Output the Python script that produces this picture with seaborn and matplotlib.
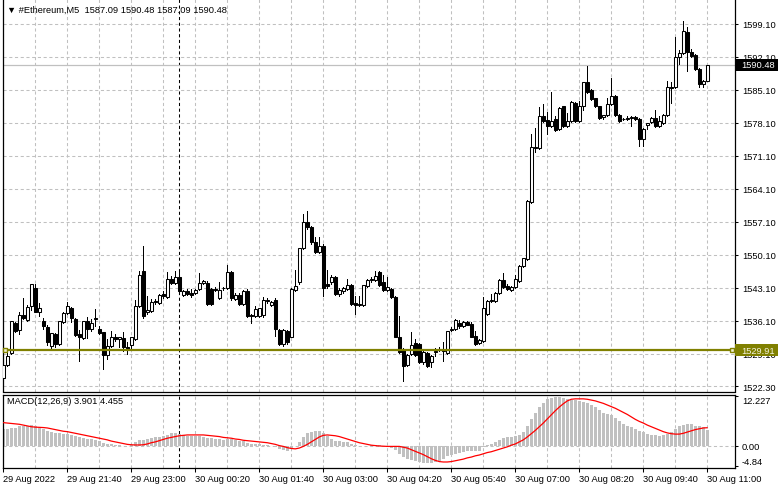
import matplotlib
matplotlib.use("Agg")
import matplotlib.pyplot as plt
import matplotlib.transforms as mtransforms
from matplotlib.patches import Rectangle
import seaborn as sns
import pandas as pd
import numpy as np

# ---- ETH M5 candles ----
opens = [1523.9, 1526.8, 1529.4, 1535.6, 1534.2, 1537.4, 1536.4, 1539.2, 1543.1, 1537.9,
         1536.1, 1534.8, 1530.7, 1533.3, 1531.2, 1535.8, 1537.8, 1538.8, 1536.5, 1533.3,
         1532.4, 1536.2, 1534.3, 1536.6, 1534.3, 1533.7, 1528.8, 1530.7, 1532.8, 1532.3,
         1532.4, 1530.5, 1531.0, 1532.3, 1539.2, 1546.8, 1537.9, 1538.3, 1540.4, 1540.0,
         1541.8, 1541.1, 1545.0, 1544.2, 1545.4, 1541.6, 1542.5, 1542.0, 1542.0, 1542.8,
         1544.2, 1544.2, 1542.9, 1542.9, 1541.0, 1543.0, 1543.0, 1546.4, 1540.8, 1541.6,
         1539.7, 1542.5, 1537.4, 1537.1, 1537.2, 1537.4, 1540.4, 1539.4, 1540.6, 1534.2,
         1531.2, 1533.9, 1532.8, 1542.7, 1544.3, 1551.5, 1557.2, 1556.0, 1552.8, 1550.8,
         1552.1, 1544.0, 1544.3, 1545.4, 1541.8, 1542.5, 1542.9, 1543.7, 1539.9, 1539.5,
         1539.5, 1543.6, 1544.7, 1544.7, 1546.4, 1544.3, 1542.7, 1542.9, 1541.1, 1532.8,
         1530.0, 1526.8, 1529.0, 1531.4, 1531.2, 1527.3, 1529.3, 1527.5, 1529.5, 1530.0,
         1529.8, 1529.3, 1534.2, 1534.4, 1535.7, 1535.1, 1535.8, 1535.5, 1533.0, 1531.4,
         1531.9, 1537.6, 1540.4, 1540.4, 1542.0, 1544.8, 1543.6, 1542.7, 1543.4, 1544.6,
         1547.7, 1549.2, 1561.4, 1573.1, 1572.7, 1579.5, 1578.8, 1577.5, 1578.9, 1576.8,
         1581.6, 1577.4, 1578.6, 1582.3, 1578.6, 1581.8, 1586.7, 1585.2, 1583.3, 1581.6,
         1579.3, 1579.8, 1582.1, 1583.8, 1579.8, 1578.9, 1579.0, 1579.1, 1579.4, 1578.9,
         1574.8, 1577.6, 1578.4, 1579.1, 1577.4, 1578.1, 1579.7, 1585.7, 1585.7, 1592.2,
         1592.9, 1597.5, 1593.1, 1592.6, 1589.5, 1586.4, 1587.09]
highs = [1527.0, 1530.3, 1536.0, 1535.9, 1538.1, 1540.9, 1539.5, 1543.9, 1543.9, 1540.0,
         1536.7, 1535.2, 1533.6, 1533.5, 1536.0, 1538.0, 1540.2, 1539.0, 1536.7, 1534.2,
         1536.2, 1536.9, 1536.6, 1538.6, 1535.0, 1533.7, 1532.3, 1534.0, 1533.3, 1532.8,
         1533.7, 1531.6, 1532.8, 1540.6, 1546.8, 1552.1, 1541.5, 1540.8, 1540.8, 1541.9,
         1542.5, 1546.4, 1545.7, 1546.6, 1546.8, 1542.7, 1542.8, 1542.9, 1542.9, 1546.2,
         1544.8, 1544.5, 1543.2, 1543.3, 1544.3, 1543.4, 1548.0, 1546.8, 1542.0, 1542.0,
         1542.7, 1542.8, 1537.6, 1539.2, 1538.9, 1541.2, 1540.9, 1540.3, 1541.0, 1534.5,
         1534.3, 1534.2, 1543.0, 1547.0, 1551.6, 1558.8, 1559.5, 1556.3, 1553.9, 1553.9,
         1552.4, 1547.0, 1545.8, 1545.6, 1543.0, 1543.4, 1545.0, 1544.0, 1541.3, 1541.5,
         1543.8, 1545.0, 1545.4, 1546.6, 1546.6, 1545.9, 1545.4, 1543.2, 1541.3, 1537.2,
         1530.3, 1529.1, 1533.7, 1532.3, 1531.4, 1529.8, 1529.5, 1528.8, 1530.3, 1530.5,
         1531.6, 1534.0, 1534.8, 1536.6, 1536.4, 1536.0, 1536.0, 1535.8, 1533.9, 1532.3,
         1541.1, 1540.6, 1541.8, 1542.2, 1544.9, 1546.3, 1543.9, 1543.6, 1545.9, 1547.9,
         1549.5, 1561.8, 1575.8, 1577.0, 1581.4, 1582.1, 1580.4, 1584.7, 1579.6, 1581.4,
         1581.8, 1580.2, 1582.8, 1582.5, 1582.8, 1586.9, 1590.1, 1585.4, 1583.5, 1581.8,
         1579.9, 1583.3, 1587.6, 1584.0, 1580.0, 1579.2, 1579.5, 1579.5, 1579.6, 1579.1,
         1577.1, 1578.2, 1579.3, 1580.9, 1579.5, 1580.0, 1587.1, 1586.9, 1596.3, 1593.6,
         1599.7, 1598.4, 1593.8, 1592.8, 1589.7, 1587.3, 1590.48]
lows = [1523.4, 1526.5, 1529.0, 1533.8, 1533.3, 1536.6, 1536.2, 1538.5, 1537.9, 1537.2,
        1534.5, 1531.0, 1530.0, 1530.6, 1531.0, 1535.6, 1537.6, 1535.8, 1533.0, 1527.7,
        1532.2, 1532.4, 1534.0, 1535.1, 1533.4, 1525.9, 1528.0, 1530.5, 1531.9, 1530.5,
        1529.8, 1529.1, 1530.4, 1532.0, 1539.0, 1536.8, 1537.5, 1538.0, 1539.8, 1539.8,
        1541.0, 1540.9, 1543.9, 1544.0, 1541.8, 1541.4, 1541.6, 1541.1, 1541.8, 1542.6,
        1544.0, 1539.4, 1539.4, 1542.4, 1540.8, 1542.6, 1542.8, 1540.6, 1540.6, 1539.5,
        1539.5, 1537.0, 1535.7, 1536.9, 1537.0, 1537.0, 1540.0, 1539.2, 1533.0, 1530.9,
        1530.8, 1531.3, 1532.6, 1542.5, 1544.0, 1551.3, 1555.7, 1552.5, 1550.5, 1550.6,
        1541.3, 1543.2, 1544.0, 1541.6, 1541.4, 1542.0, 1542.6, 1539.5, 1537.6, 1539.2,
        1539.3, 1543.4, 1544.4, 1544.5, 1543.5, 1542.5, 1542.5, 1540.9, 1532.6, 1529.4,
        1523.4, 1526.6, 1528.8, 1528.7, 1527.1, 1527.0, 1526.3, 1526.4, 1528.7, 1529.7,
        1527.7, 1529.1, 1533.9, 1534.2, 1534.6, 1534.9, 1535.2, 1532.6, 1531.0, 1531.2,
        1531.7, 1537.4, 1540.2, 1540.2, 1541.8, 1543.2, 1542.7, 1542.5, 1543.2, 1544.4,
        1547.5, 1549.0, 1561.2, 1571.9, 1572.5, 1578.3, 1575.8, 1577.3, 1576.5, 1576.6,
        1577.2, 1577.2, 1578.4, 1578.4, 1578.4, 1580.9, 1584.5, 1583.0, 1581.4, 1578.9,
        1579.0, 1579.6, 1581.9, 1579.6, 1578.4, 1578.7, 1578.8, 1577.5, 1578.7, 1573.2,
        1573.2, 1576.8, 1578.2, 1577.3, 1577.2, 1577.9, 1579.5, 1582.4, 1585.5, 1590.6,
        1592.7, 1589.2, 1592.0, 1589.3, 1585.8, 1585.8, 1587.09]
closes = [1526.8, 1528.7, 1536.0, 1534.0, 1537.4, 1536.7, 1539.0, 1543.9, 1538.1, 1538.8,
          1535.1, 1531.6, 1533.6, 1531.2, 1536.0, 1537.8, 1539.2, 1536.7, 1533.1, 1532.6,
          1536.2, 1534.4, 1535.7, 1536.7, 1533.6, 1528.8, 1530.7, 1532.8, 1532.3, 1532.6,
          1530.5, 1530.2, 1532.6, 1539.2, 1545.9, 1537.1, 1538.5, 1540.2, 1540.1, 1541.7,
          1541.5, 1545.0, 1544.2, 1545.5, 1542.5, 1542.5, 1541.8, 1541.7, 1542.7, 1544.2,
          1544.5, 1539.6, 1539.6, 1542.6, 1542.7, 1543.1, 1546.4, 1540.9, 1541.7, 1539.7,
          1542.5, 1537.1, 1537.1, 1538.6, 1538.8, 1540.6, 1540.6, 1540.1, 1534.3, 1531.2,
          1534.1, 1531.6, 1542.9, 1543.5, 1551.5, 1557.2, 1556.0, 1552.8, 1550.8, 1552.1,
          1543.2, 1543.6, 1545.4, 1541.8, 1542.7, 1543.0, 1543.7, 1539.7, 1539.4, 1539.6,
          1543.7, 1544.7, 1545.0, 1545.7, 1543.7, 1542.7, 1543.4, 1541.1, 1532.8, 1529.6,
          1526.6, 1528.9, 1531.0, 1528.9, 1527.3, 1529.5, 1526.6, 1528.6, 1529.7, 1530.1,
          1529.9, 1533.9, 1534.5, 1536.4, 1535.0, 1535.8, 1535.3, 1532.8, 1531.2, 1532.1,
          1538.8, 1540.4, 1540.5, 1542.0, 1544.8, 1543.4, 1542.9, 1543.4, 1544.9, 1547.7,
          1549.4, 1561.6, 1573.1, 1572.8, 1579.5, 1578.6, 1577.5, 1578.6, 1576.7, 1581.2,
          1577.4, 1578.6, 1582.6, 1578.6, 1581.8, 1586.7, 1584.7, 1583.2, 1581.6, 1579.1,
          1579.8, 1582.1, 1583.8, 1579.8, 1578.6, 1578.9, 1579.2, 1579.3, 1578.9, 1574.8,
          1576.9, 1578.1, 1579.1, 1577.5, 1578.6, 1579.8, 1585.7, 1585.5, 1592.2, 1592.9,
          1597.7, 1593.1, 1592.4, 1589.5, 1586.4, 1587.1, 1590.48]

# ---- MACD(12,26,9): main (histogram) and signal ----
macd_main = [4.1, 4.1, 4.4, 4.5, 4.8, 5.0, 5.0, 5.1, 5.0, 4.5,
             4.1, 3.7, 3.5, 3.2, 3.2, 2.9, 2.9, 2.7, 2.4, 2.1,
             1.9, 1.7, 1.7, 1.5, 1.3, 0.7, 0.6, 0.4, 0.2, 0.2,
             0.1, 0.0, 0.2, 0.9, 1.5, 1.5, 1.7, 1.9, 2.1, 2.3,
             2.5, 2.8, 3.2, 3.2, 3.0, 2.7, 2.5, 2.5, 2.5, 2.4,
             2.1, 2.0, 1.9, 1.7, 1.7, 1.5, 1.7, 1.7, 1.5, 1.2,
             1.1, 0.7, 0.5, 0.5, 0.4, 0.2, 0.2, 0.1, -0.3, -0.7,
             -1.0, -1.2, -0.7, -0.1, 0.9, 2.1, 3.1, 3.5, 3.6, 3.7,
             3.2, 2.4, 1.7, 1.3, 1.1, 0.9, 0.9, 0.5, 0.2, 0.1,
             0.1, 0.1, 0.2, 0.2, 0.2, 0.1, -0.1, -0.4, -1.0, -1.9,
             -2.7, -3.1, -3.5, -3.7, -3.9, -4.1, -4.2, -4.2, -3.9, -3.7,
             -3.1, -2.4, -2.1, -1.9, -1.6, -1.5, -1.2, -1.2, -1.3, -1.3,
             -0.2, 0.2, 0.6, 1.0, 1.5, 2.0, 2.2, 2.2, 2.4, 2.8,
             3.4, 4.8, 6.7, 8.1, 9.5, 10.5, 11.4, 11.7, 11.9, 12.0,
             11.7, 11.5, 11.1, 11.1, 10.9, 10.7, 10.6, 10.1, 9.5, 8.7,
             8.1, 7.9, 7.5, 6.8, 6.0, 5.4, 5.0, 4.6, 4.1, 3.6,
             3.3, 3.0, 2.8, 2.6, 2.4, 2.6, 3.0, 3.4, 4.1, 4.8,
             5.2, 5.4, 5.4, 5.0, 4.8, 4.6, 3.901]
macd_signal = [5.7, 5.6, 5.5, 5.4, 5.3, 5.1, 4.9, 4.7, 4.6, 4.55,
               4.5, 4.4, 4.2, 4.0, 3.8, 3.6, 3.5, 3.3, 3.1, 2.9,
               2.7, 2.5, 2.3, 2.1, 1.9, 1.7, 1.5, 1.2, 1.0, 0.8,
               0.6, 0.4, 0.3, 0.25, 0.25, 0.3, 0.5, 0.8, 1.0, 1.3,
               1.6, 1.9, 2.1, 2.3, 2.5, 2.6, 2.7, 2.7, 2.7, 2.7,
               2.7, 2.6, 2.5, 2.4, 2.3, 2.1, 2.0, 1.9, 1.7, 1.6,
               1.4, 1.3, 1.2, 1.1, 1.0, 0.9, 0.8, 0.6, 0.4, 0.1,
               -0.1, -0.4, -0.6, -0.7, -0.5, -0.1, 0.4, 1.0, 1.6, 2.2,
               2.6, 2.7, 2.6, 2.5, 2.3, 2.0, 1.7, 1.4, 1.1, 0.8,
               0.6, 0.4, 0.2, 0.1, 0.0, -0.05, -0.1, -0.1, -0.1, -0.1,
               -0.3, -0.5, -0.9, -1.3, -1.7, -2.1, -2.6, -3.1, -3.5, -3.8,
               -3.9, -3.9, -3.8, -3.6, -3.4, -3.2, -2.9, -2.7, -2.4, -2.2,
               -1.9, -1.6, -1.4, -1.1, -0.8, -0.5, -0.2, 0.2, 0.5, 1.0,
               1.5, 2.2, 3.0, 3.8, 4.7, 5.6, 6.6, 7.6, 8.6, 9.5,
               10.3, 11.0, 11.4, 11.5, 11.5, 11.5, 11.4, 11.2, 11.0, 10.7,
               10.4, 10.0, 9.6, 9.2, 8.7, 8.2, 7.7, 7.1, 6.5, 6.0,
               5.6, 5.1, 4.7, 4.3, 3.9, 3.5, 3.2, 3.0, 2.9, 2.9,
               3.1, 3.4, 3.7, 4.0, 4.2, 4.4, 4.455]

time_labels = ["29 Aug 2022", "29 Aug 21:40", "29 Aug 23:00", "30 Aug 00:20",
               "30 Aug 01:40", "30 Aug 03:00", "30 Aug 04:20", "30 Aug 05:40",
               "30 Aug 07:00", "30 Aug 08:20", "30 Aug 09:40", "30 Aug 11:00"]
price_ticks = [1599.1, 1592.1, 1585.1, 1578.1, 1571.1, 1564.1, 1557.1, 1550.1,
               1543.1, 1536.1, 1529.1, 1522.3]
macd_ticks = [12.227, 0.0, -4.84]
bid_price = 1590.48
level_price = 1529.91

df = pd.DataFrame({"open": opens, "high": highs, "low": lows, "close": closes,
                   "main": macd_main, "signal": macd_signal})
df["bar"] = np.arange(len(df))

sns.set_style("white")
plt.rcParams["font.family"] = ["Liberation Sans", "DejaVu Sans"]
FS = 6.7
GRID = "#c0c0c0"
OLIVE = "#808000"

W, H = 781, 489
fig = plt.figure(figsize=(W / 100, H / 100), dpi=100)
ax = fig.add_axes([2.5 / W, 1 - 392.5 / H, 732.5 / W, 392.5 / H])
ax2 = fig.add_axes([2.5 / W, 1 - 469 / H, 732.5 / W, 73.5 / H])

xmin, xmax = (2.5 - 3.3) / 4, (735 - 3.3) / 4
ptop = 1599.1 + 25 / 4.714
pbot = 1599.1 - (392.5 - 25) / 4.714

# grid
for a in (ax, ax2):
    for g in range(0, len(df), 8):
        a.axvline(g, color=GRID, lw=0.75, ls=(0, (3, 2.5)), zorder=0)
    a.axvline(44, color="black", lw=0.75, ls=(0, (3, 2.5)), zorder=1)
for p in price_ticks:
    ax.axhline(p, color=GRID, lw=0.75, ls=(0, (3, 2.5)), zorder=0)

# bid line and horizontal level
ax.axhline(bid_price, color=GRID, lw=0.9, zorder=1)
ax.axhline(level_price, color=OLIVE, lw=1.6, zorder=4)
blend = mtransforms.blended_transform_factory(ax.transAxes, ax.transData)
ax.plot([0.004, 0.996], [level_price, level_price], ls="none", marker="s", ms=3.4,
        mfc="#f0f0d0", mec=OLIVE, mew=1, transform=blend, zorder=5, clip_on=False)

# candles
up = df["close"] >= df["open"]
ax.vlines(df["bar"], df["low"], df["high"], color="black", lw=0.72, zorder=2,
          antialiased=False)
body = (df["close"] - df["open"]).abs().clip(lower=0.12)
bottom = df[["open", "close"]].min(axis=1)
ax.bar(df["bar"], body, bottom=bottom, width=0.72,
       color=np.where(up, "white", "black"), edgecolor="black", linewidth=0.75,
       zorder=3)

ax.set_xlim(xmin, xmax)
ax.set_ylim(pbot, ptop)
ax.set_xticks([])
ax.yaxis.tick_right()
ax.set_yticks(price_ticks)
ax.set_yticklabels([f"{p:.2f}" for p in price_ticks])
ax.tick_params(axis="y", direction="out", length=2.5, width=0.75, pad=2.6,
               labelsize=FS, colors="black")
for s in ["left", "right", "bottom"]:
    ax.spines[s].set_color("black")
    ax.spines[s].set_linewidth(0.9)
ax.spines["top"].set_visible(False)

# price tags on the right
for price, fc, tc in [(bid_price, "black", "white"), (level_price, OLIVE, "#f4f4e0")]:
    h = 12 / 4.714
    ax.add_patch(Rectangle((1.0, price - h / 2), 43 / 732.5, h, transform=blend,
                           facecolor=fc, edgecolor="none", clip_on=False, zorder=6))
    ax.text(1 + 6.5 / 732.5, price, f"{price:.2f}", transform=blend, color=tc,
            fontsize=FS, va="center", ha="left", zorder=7, clip_on=False)

# MACD panel
sns.barplot(data=df, x="bar", y="main", native_scale=True, width=0.6,
            color="#c0c0c0", linewidth=0, errorbar=None, ax=ax2, zorder=2)
for patch in ax2.patches:
    patch.set_antialiased(False)
sns.lineplot(data=df, x="bar", y="signal", color="red", linewidth=0.9, ax=ax2, zorder=3)
ax2.axhline(0, color=GRID, lw=0.75, ls=(0, (3, 2.5)), zorder=0)
ax2.set_xlim(xmin, xmax)
ax2.set_ylim(-22 / 4.1, 51.5 / 4.1)
ax2.set_xlabel("")
ax2.set_ylabel("")
ax2.yaxis.tick_right()
ax2.set_yticks(macd_ticks)
ax2.set_yticklabels(["12.227", "0.00", "-4.84"])
ax2.tick_params(axis="y", direction="out", length=2.5, width=0.75, pad=2.6,
                labelsize=FS, colors="black")
lbls = ax2.get_yticklabels()
lbls[0].set_va("top")
lbls[2].set_va("bottom")
ax2.set_xticks(list(range(0, len(df), 16)))
ax2.set_xticklabels(time_labels, ha="left")
ax2.tick_params(axis="x", direction="out", length=3, width=0.75, pad=1.5,
                labelsize=FS, colors="black", bottom=True)
for s in ax2.spines.values():
    s.set_color("black")
    s.set_linewidth(0.9)

fig.text(7 / W, 1 - 10 / H, "\u25bc #Ethereum,M5  1587.09 1590.48 1587.09 1590.48",
         fontsize=FS, va="center", ha="left", color="black")
fig.text(7 / W, 1 - 402 / H, "MACD(12,26,9) 3.901 4.455",
         fontsize=FS, va="center", ha="left", color="black")

fig.savefig("out.png", dpi=100, facecolor="white")
